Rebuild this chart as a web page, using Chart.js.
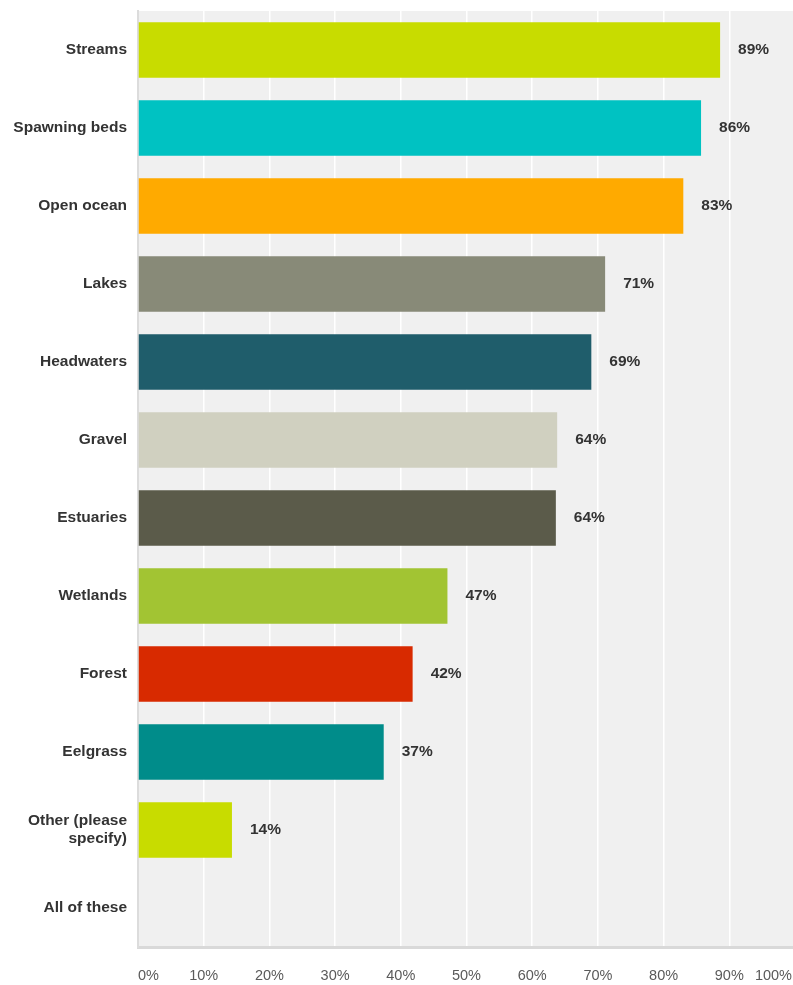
<!DOCTYPE html>
<html>
<head>
<meta charset="utf-8">
<title>Habitat chart</title>
<script src="https://cdn.jsdelivr.net/npm/chart.js@4.4.1/dist/chart.umd.min.js"></script>
<style>
    html, body { margin: 0; padding: 0; background: #fff; overflow: hidden; }
    #wrap { position: relative; width: 800px; height: 985px; }
</style>
</head>
<body>
<div id="wrap"><canvas id="chart"></canvas></div>
<script>
// Data
const categories = [
    'Streams', 'Spawning beds', 'Open ocean', 'Lakes', 'Headwaters', 'Gravel',
    'Estuaries', 'Wetlands', 'Forest', 'Eelgrass', ['Other (please', 'specify)'], 'All of these'
];
const percentValues = [88.6, 85.7, 83.0, 71.1, 69.0, 63.8, 63.6, 47.1, 41.8, 37.4, 14.3, 0];
const barColors = [
    '#c8dc00', '#00c2c2', '#ffaa00', '#888a78', '#1f5d6b', '#d0d0c0',
    '#5b5b4a', '#a2c433', '#d82a00', '#008c8a', '#c8dc00', '#c8dc00'
];
const xTicks = [0, 10, 20, 30, 40, 50, 60, 70, 80, 90, 100];

const VIEW_WIDTH = 793;

// grey plot background
const plotBackground = {
    id: 'plotBackground',
    beforeDraw(chart) {
        const { ctx, chartArea } = chart;
        ctx.save();
        ctx.fillStyle = '#f0f0f0';
        ctx.fillRect(chartArea.left, chartArea.top, chartArea.right - chartArea.left, chartArea.bottom - chartArea.top);
        ctx.restore();
    }
};

// percent labels right of each bar
const valueLabels = {
    id: 'valueLabels',
    afterDatasetsDraw(chart) {
        const { ctx } = chart;
        const meta = chart.getDatasetMeta(0);
        ctx.save();
        ctx.font = 'bold 15.5px "Liberation Sans", Arial, sans-serif';
        ctx.fillStyle = '#333';
        ctx.textAlign = 'left';
        ctx.textBaseline = 'middle';
        meta.data.forEach((bar, i) => {
            if (!percentValues[i]) return;
            ctx.fillText(Math.round(percentValues[i]) + '%', bar.x + 18, bar.y);
        });
        ctx.restore();
    }
};

// x tick labels, kept inside the visible page
const xTickLabels = {
    id: 'xTickLabels',
    afterDraw(chart) {
        const { ctx, chartArea } = chart;
        const xScale = chart.scales.x;
        ctx.save();
        ctx.font = '14.5px "Liberation Sans", Arial, sans-serif';
        ctx.fillStyle = '#5a5a5a';
        ctx.textAlign = 'center';
        ctx.textBaseline = 'middle';
        xTicks.forEach(v => {
            const text = v + '%';
            const w = ctx.measureText(text).width;
            let x = xScale.getPixelForValue(v);
            x = Math.max(chartArea.left + w / 2, Math.min(VIEW_WIDTH - 1 - w / 2, x));
            ctx.fillText(text, x, chartArea.bottom + 29);
        });
        ctx.restore();
    }
};

new Chart(document.getElementById('chart'), {
    type: 'bar',
    data: {
        labels: categories,
        datasets: [{
            data: percentValues,
            backgroundColor: barColors,
            borderWidth: 0,
            barPercentage: 0.71,
            categoryPercentage: 1
        }]
    },
    options: {
        indexAxis: 'y',
        responsive: true,
        maintainAspectRatio: false,
        animation: false,
        layout: { padding: { top: 11, right: 5, left: 0, bottom: 0 } },
        plugins: {
            legend: { display: false },
            tooltip: { enabled: false }
        },
        scales: {
            x: {
                min: 0,
                max: 100,
                afterBuildTicks(scale) {
                    scale.ticks = xTicks.map(v => ({ value: v }));
                },
                afterFit(scale) { scale.height = 38; scale.paddingLeft = 0; scale.paddingRight = 0; },
                ticks: { display: false },
                grid: { color: '#ffffff', lineWidth: 1.5, drawTicks: false },
                border: { display: true, color: '#d9d9d9', width: 3 }
            },
            y: {
                afterFit(scale) { scale.width = 138; scale.paddingTop = 0; scale.paddingBottom = 0; },
                ticks: {
                    color: '#333',
                    padding: 11,
                    font: { family: '"Liberation Sans", Arial, sans-serif', size: 15.5, weight: 'bold', lineHeight: 1.15 }
                },
                grid: { display: false, drawTicks: false },
                border: { display: true, color: '#dcdcdc', width: 2 }
            }
        }
    },
    plugins: [plotBackground, valueLabels, xTickLabels]
});
</script>
</body>
</html>
